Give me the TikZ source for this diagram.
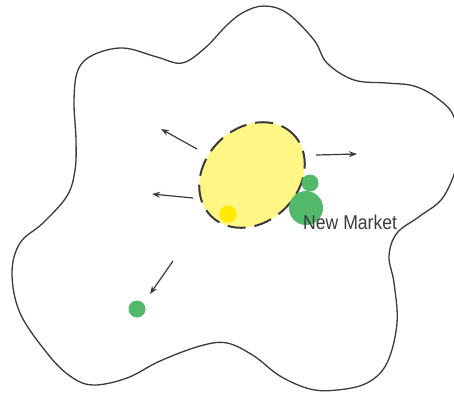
\documentclass[tikz,border=0pt]{standalone}
\usepackage{fontspec}
\setmainfont{Liberation Sans}
\usetikzlibrary{shapes.geometric,arrows.meta}

\definecolor{coreyellow}{HTML}{FFF685}
\definecolor{dotyellow}{HTML}{FFEA00}
\definecolor{marketgreen}{HTML}{52B96B}
\definecolor{inkgray}{HTML}{3A3A3A}

\begin{document}
\begin{tikzpicture}[x=1pt, y=-1pt]
\useasboundingbox (0,0) rectangle (454,392);
% market boundary
\draw[line width=1.3pt, color=inkgray] plot[smooth cycle, tension=0.6] coordinates {
 (123,48) (157,57) (182,63) (205,48) (227,25) (244,12) (264,6) (287,13)
 (314,40) (327,63) (354,80) (387,83) (414,86) (437,98) (454,117) (459,155)
 (444,196) (420,216) (397,233) (389,256) (394,283) (397,323) (387,363)
 (367,383) (337,390) (310,389) (280,376) (254,356) (227,343) (200,346)
 (160,361) (127,378) (93,385) (70,376) (47,353) (20,313) (12,273) (20,243)
 (43,223) (67,196) (75,170) (76,140) (74,100) (78,70) (93,55)};
% core market and players
\node  (core)[draw=inkgray, ellipse, rotate=45, minimum width=116pt, minimum height=94pt, fill=coreyellow, line width=2pt, dash pattern=on 18pt off 9pt, dash phase=4pt] at (252,175) {};
\node  (dot)[circle, minimum size=17pt, inner sep=0pt, fill=dotyellow] at (228,214) {};
\node  (small)[circle, minimum size=17pt, inner sep=0pt, fill=marketgreen] at (310,183) {};
\node  (big)[circle, minimum size=34pt, inner sep=0pt, fill=marketgreen] at (306,208) {};
\node  (far)[circle, minimum size=17pt, inner sep=0pt, fill=marketgreen] at (137,309) {};
\node  (label)[anchor=base west, inner sep=0pt, xscale=0.88, text=inkgray, font=\fontsize{20}{20}\selectfont] at (303,229) {New Market};
% expansion directions
\coordinate (a1) at (197,149);
\coordinate (b1) at (161,129);
\coordinate (a2) at (193,198);
\coordinate (b2) at (152,194);
\coordinate (a3) at (316,155);
\coordinate (b3) at (357,154);
\coordinate (a4) at (173,261);
\coordinate (b4) at (150,294);
\draw[arrows=-{Stealth[length=8pt,width=6pt]}, line width=1.2pt, color=inkgray] (a1) -- (b1);
\draw[arrows=-{Stealth[length=8pt,width=6pt]}, line width=1.2pt, color=inkgray] (a2) -- (b2);
\draw[arrows=-{Stealth[length=8pt,width=6pt]}, line width=1.2pt, color=inkgray] (a3) -- (b3);
\draw[arrows=-{Stealth[length=8pt,width=6pt]}, line width=1.2pt, color=inkgray] (a4) -- (b4);
\end{tikzpicture}
\end{document}
